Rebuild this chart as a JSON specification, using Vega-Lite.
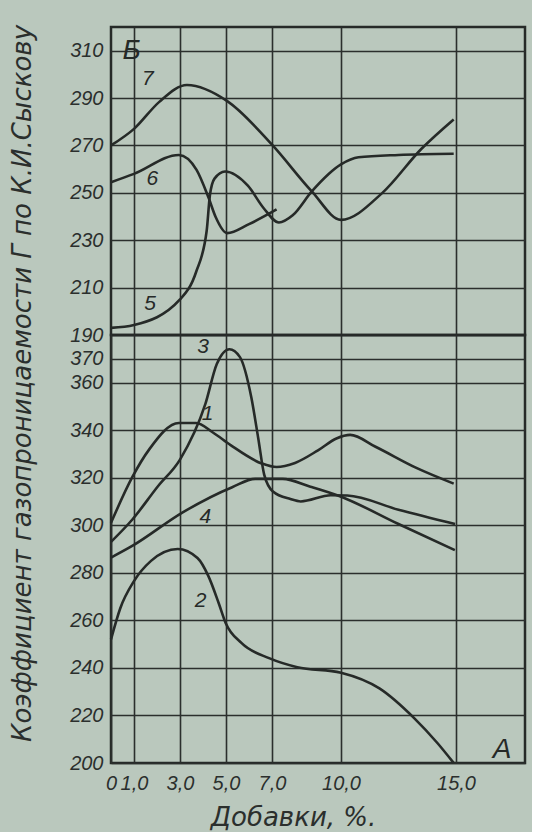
{
  "$schema": "https://vega.github.io/schema/vega-lite/v6.json",
  "background": "#bac8bd",
  "padding": {"left": 10, "top": 24, "right": 5, "bottom": 0},
  "title": {"text": "Коэффициент газопроницаемости Г по К.И.Сыскову", "orient": "left", "anchor": "middle", "font": "DejaVu Sans", "fontStyle": "italic", "fontSize": 26, "fontWeight": "normal", "color": "#2b2f2d", "offset": 32, "dx": 45},
  "config": {
    "view": {"stroke": "#262a28", "strokeWidth": 2.5},
    "axis": {"gridColor": "#2b2f2d", "gridOpacity": 1, "gridWidth": 1.6, "domain": false, "ticks": false, "labelFont": "Liberation Sans", "labelFontStyle": "italic", "labelFontSize": 20, "labelColor": "#2b2f2d", "labelPadding": 8, "labelOverlap": false, "labelFlush": false}
  },
  "datasets": {
    "curves": [
      {"panel": "B", "curve": "7", "x": 0, "y": 270},
      {"panel": "B", "curve": "7", "x": 1, "y": 277},
      {"panel": "B", "curve": "7", "x": 2.1, "y": 288.4},
      {"panel": "B", "curve": "7", "x": 3.3, "y": 295.5},
      {"panel": "B", "curve": "7", "x": 5.07, "y": 288.6},
      {"panel": "B", "curve": "7", "x": 7.03, "y": 270},
      {"panel": "B", "curve": "7", "x": 8.73, "y": 250.6},
      {"panel": "B", "curve": "7", "x": 10.0, "y": 238.6},
      {"panel": "B", "curve": "7", "x": 11.8, "y": 250},
      {"panel": "B", "curve": "7", "x": 13.5, "y": 268.6},
      {"panel": "B", "curve": "7", "x": 14.9, "y": 281},
      {"panel": "B", "curve": "6", "x": 0, "y": 254.5},
      {"panel": "B", "curve": "6", "x": 1, "y": 258},
      {"panel": "B", "curve": "6", "x": 2.95, "y": 266},
      {"panel": "B", "curve": "6", "x": 3.72, "y": 259.7},
      {"panel": "B", "curve": "6", "x": 4.24, "y": 248},
      {"panel": "B", "curve": "6", "x": 4.55, "y": 239.8},
      {"panel": "B", "curve": "6", "x": 5.05, "y": 233},
      {"panel": "B", "curve": "6", "x": 6.0, "y": 236.8},
      {"panel": "B", "curve": "6", "x": 7.2, "y": 243},
      {"panel": "B", "curve": "5", "x": 0, "y": 193},
      {"panel": "B", "curve": "5", "x": 1, "y": 194.2},
      {"panel": "B", "curve": "5", "x": 3.0, "y": 205},
      {"panel": "B", "curve": "5", "x": 3.7, "y": 216.6},
      {"panel": "B", "curve": "5", "x": 4.16, "y": 234},
      {"panel": "B", "curve": "5", "x": 4.3, "y": 249},
      {"panel": "B", "curve": "5", "x": 4.5, "y": 256},
      {"panel": "B", "curve": "5", "x": 4.96, "y": 259},
      {"panel": "B", "curve": "5", "x": 5.95, "y": 253},
      {"panel": "B", "curve": "5", "x": 6.64, "y": 243.5},
      {"panel": "B", "curve": "5", "x": 7.3, "y": 237.5},
      {"panel": "B", "curve": "5", "x": 7.9, "y": 240.5},
      {"panel": "B", "curve": "5", "x": 8.73, "y": 250.6},
      {"panel": "B", "curve": "5", "x": 10.0, "y": 262},
      {"panel": "B", "curve": "5", "x": 10.76, "y": 265},
      {"panel": "B", "curve": "5", "x": 12.5, "y": 266},
      {"panel": "B", "curve": "5", "x": 14.9, "y": 266.5},
      {"panel": "A", "curve": "1", "x": 0, "y": 301},
      {"panel": "A", "curve": "1", "x": 0.93, "y": 320.3},
      {"panel": "A", "curve": "1", "x": 1.67, "y": 332},
      {"panel": "A", "curve": "1", "x": 2.95, "y": 343},
      {"panel": "A", "curve": "1", "x": 3.7, "y": 343},
      {"panel": "A", "curve": "1", "x": 4.43, "y": 339},
      {"panel": "A", "curve": "1", "x": 5.2, "y": 333.7},
      {"panel": "A", "curve": "1", "x": 6.55, "y": 326},
      {"panel": "A", "curve": "1", "x": 7.2, "y": 324.5},
      {"panel": "A", "curve": "1", "x": 8.0, "y": 326.2},
      {"panel": "A", "curve": "1", "x": 9.0, "y": 331.5},
      {"panel": "A", "curve": "1", "x": 9.8, "y": 336.5},
      {"panel": "A", "curve": "1", "x": 10.4, "y": 338},
      {"panel": "A", "curve": "1", "x": 11.5, "y": 333},
      {"panel": "A", "curve": "1", "x": 13.3, "y": 324},
      {"panel": "A", "curve": "1", "x": 14.9, "y": 317.5},
      {"panel": "A", "curve": "3", "x": 0, "y": 293},
      {"panel": "A", "curve": "3", "x": 0.92, "y": 302.3},
      {"panel": "A", "curve": "3", "x": 2.05, "y": 316.5},
      {"panel": "A", "curve": "3", "x": 3.0, "y": 327.6},
      {"panel": "A", "curve": "3", "x": 4.1, "y": 350.9},
      {"panel": "A", "curve": "3", "x": 4.6, "y": 367.8},
      {"panel": "A", "curve": "3", "x": 5.15, "y": 374},
      {"panel": "A", "curve": "3", "x": 5.6, "y": 370.8},
      {"panel": "A", "curve": "3", "x": 6.1, "y": 353.8},
      {"panel": "A", "curve": "3", "x": 6.4, "y": 336.7},
      {"panel": "A", "curve": "3", "x": 6.66, "y": 321.3},
      {"panel": "A", "curve": "3", "x": 7.04, "y": 314.2},
      {"panel": "A", "curve": "3", "x": 7.8, "y": 311},
      {"panel": "A", "curve": "3", "x": 8.25, "y": 310},
      {"panel": "A", "curve": "3", "x": 9.56, "y": 312.6},
      {"panel": "A", "curve": "3", "x": 10.27, "y": 312.5},
      {"panel": "A", "curve": "3", "x": 12.5, "y": 306.5},
      {"panel": "A", "curve": "3", "x": 14.96, "y": 300.5},
      {"panel": "A", "curve": "4", "x": 0, "y": 286.4},
      {"panel": "A", "curve": "4", "x": 0.96, "y": 291.5},
      {"panel": "A", "curve": "4", "x": 3.1, "y": 305.3},
      {"panel": "A", "curve": "4", "x": 5.27, "y": 316},
      {"panel": "A", "curve": "4", "x": 6.27, "y": 319.5},
      {"panel": "A", "curve": "4", "x": 7.46, "y": 319.5},
      {"panel": "A", "curve": "4", "x": 8.67, "y": 316.2},
      {"panel": "A", "curve": "4", "x": 9.92, "y": 312.3},
      {"panel": "A", "curve": "4", "x": 12.5, "y": 300.5},
      {"panel": "A", "curve": "4", "x": 14.95, "y": 289.5},
      {"panel": "A", "curve": "2", "x": 0, "y": 252},
      {"panel": "A", "curve": "2", "x": 0.4, "y": 265},
      {"panel": "A", "curve": "2", "x": 1.0, "y": 276.5},
      {"panel": "A", "curve": "2", "x": 1.74, "y": 285},
      {"panel": "A", "curve": "2", "x": 2.9, "y": 290},
      {"panel": "A", "curve": "2", "x": 3.76, "y": 286.2},
      {"panel": "A", "curve": "2", "x": 4.23, "y": 278.7},
      {"panel": "A", "curve": "2", "x": 4.68, "y": 267.3},
      {"panel": "A", "curve": "2", "x": 4.98, "y": 259},
      {"panel": "A", "curve": "2", "x": 5.67, "y": 250.5},
      {"panel": "A", "curve": "2", "x": 6.9, "y": 244},
      {"panel": "A", "curve": "2", "x": 8.1, "y": 240.3},
      {"panel": "A", "curve": "2", "x": 10.0, "y": 238},
      {"panel": "A", "curve": "2", "x": 11.67, "y": 231.4},
      {"panel": "A", "curve": "2", "x": 13.17, "y": 219},
      {"panel": "A", "curve": "2", "x": 14.2, "y": 208.3},
      {"panel": "A", "curve": "2", "x": 14.9, "y": 200}
    ],
    "labels": [
      {"panel": "B", "text": "7", "x": 1.6, "y": 298, "big": false},
      {"panel": "B", "text": "6", "x": 1.8, "y": 256, "big": false},
      {"panel": "B", "text": "5", "x": 1.7, "y": 203, "big": false},
      {"panel": "B", "text": "Б", "x": 0.9, "y": 310, "big": true},
      {"panel": "A", "text": "3", "x": 4.0, "y": 375, "big": false},
      {"panel": "A", "text": "1", "x": 4.2, "y": 346.6, "big": false},
      {"panel": "A", "text": "4", "x": 4.1, "y": 303.6, "big": false},
      {"panel": "A", "text": "2", "x": 3.9, "y": 268, "big": false},
      {"panel": "A", "text": "A", "x": 17.0, "y": 205.5, "big": true}
    ]
  },
  "spacing": 0,
  "bounds": "flush",
  "vconcat": [
    {
      "width": 414,
      "height": 308,
      "layer": [
        {
          "data": {"name": "curves"},
          "transform": [{"filter": "datum.panel == 'B'"}],
          "mark": {"type": "line", "interpolate": "monotone", "color": "#262a28", "strokeWidth": 2.6},
          "encoding": {
            "x": {"field": "x", "type": "quantitative", "scale": {"domain": [0, 18], "nice": false}, "axis": {"values": [1, 3, 5, 7, 10, 15], "labels": false, "title": null, "grid": true, "minExtent": 0, "maxExtent": 0, "labelPadding": 0}},
            "y": {"field": "y", "type": "quantitative", "scale": {"domain": [190, 320], "nice": false, "zero": false}, "axis": {"values": [190, 210, 230, 250, 270, 290, 310], "title": null, "grid": true}},
            "detail": {"field": "curve"}
          }
        },
        {
          "data": {"name": "labels"},
          "transform": [{"filter": "datum.panel == 'B'"}],
          "mark": {"type": "text", "font": "Liberation Sans", "fontStyle": "italic", "color": "#262a28", "align": "center", "baseline": "middle"},
          "encoding": {
            "x": {"field": "x", "type": "quantitative"},
            "y": {"field": "y", "type": "quantitative"},
            "text": {"field": "text"},
            "size": {"field": "big", "type": "nominal", "scale": {"domain": [false, true], "range": [21, 28]}, "legend": null}
          }
        }
      ]
    },
    {
      "width": 414,
      "height": 428,
      "layer": [
        {
          "data": {"name": "curves"},
          "transform": [{"filter": "datum.panel == 'A'"}],
          "mark": {"type": "line", "interpolate": "monotone", "color": "#262a28", "strokeWidth": 2.6},
          "encoding": {
            "x": {"field": "x", "type": "quantitative", "scale": {"domain": [0, 18], "nice": false}, "axis": {"values": [0, 1, 3, 5, 7, 10, 15], "labelExpr": "datum.value == 0 ? '0' : replace(format(datum.value, '.1f'), '.', ',')", "grid": true, "labelPadding": 10, "title": "Добавки, %.", "titleFont": "DejaVu Sans", "titleFontStyle": "italic", "titleFontWeight": "normal", "titleFontSize": 26, "titleColor": "#2b2f2d", "titleX": 182, "titleY": 62, "titleBaseline": "alphabetic", "titleAlign": "center"}},
            "y": {"field": "y", "type": "quantitative", "scale": {"domain": [200, 380], "nice": false, "zero": false}, "axis": {"values": [200, 220, 240, 260, 280, 300, 320, 340, 360, 370], "title": null, "grid": true}},
            "detail": {"field": "curve"}
          }
        },
        {
          "data": {"name": "labels"},
          "transform": [{"filter": "datum.panel == 'A'"}],
          "mark": {"type": "text", "font": "Liberation Sans", "fontStyle": "italic", "color": "#262a28", "align": "center", "baseline": "middle"},
          "encoding": {
            "x": {"field": "x", "type": "quantitative"},
            "y": {"field": "y", "type": "quantitative"},
            "text": {"field": "text"},
            "size": {"field": "big", "type": "nominal", "scale": {"domain": [false, true], "range": [21, 28]}, "legend": null}
          }
        }
      ]
    }
  ]
}
